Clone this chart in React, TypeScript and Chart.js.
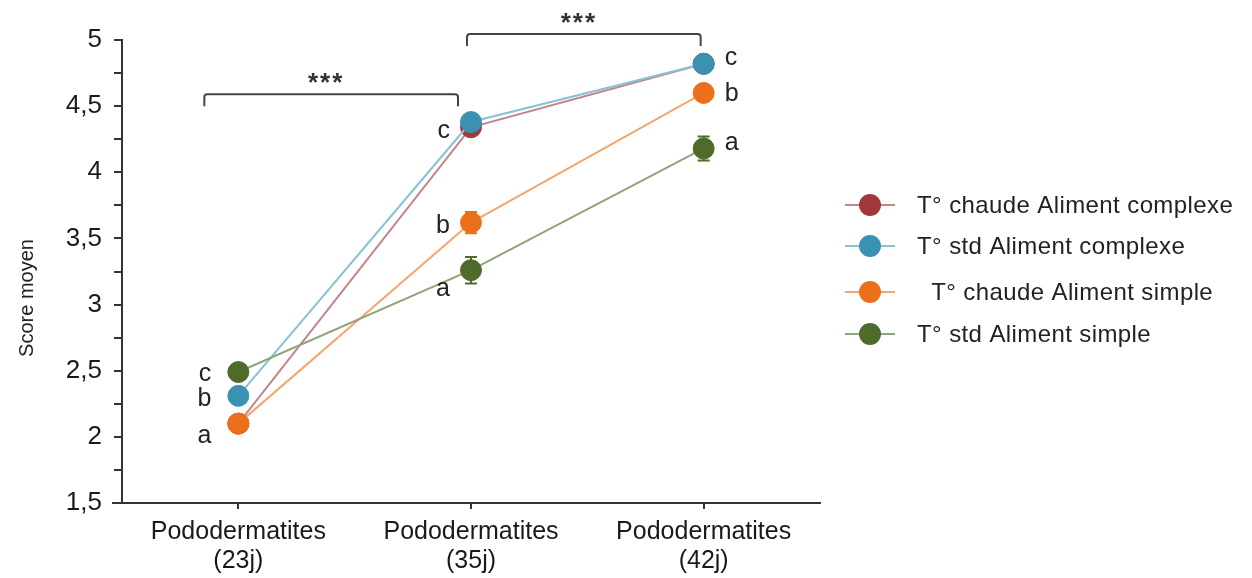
import React, { useEffect, useRef } from 'react';
import { Chart, registerables } from 'chart.js';

Chart.register(...registerables);

const categories = [
  ['Pododermatites', '(23j)'],
  ['Pododermatites', '(35j)'],
  ['Pododermatites', '(42j)'],
];
const seriesLabels = [
  'T° chaude Aliment complexe',
  'T° std Aliment complexe',
  '  T° chaude Aliment simple',
  'T° std Aliment simple',
];
const chaudeComplexe = [2.1, 4.34, 4.82];
const stdComplexe = [2.31, 4.38, 4.82];
const chaudeSimple = [2.1, 3.62, 4.6];
const stdSimple = [2.49, 3.26, 4.18];

const errChaudeComplexe = [0.03, 0.04, 0.03];
const errStdComplexe = [0.03, 0.03, 0.03];
const errChaudeSimple = [0.03, 0.08, 0.04];
const errStdSimple = [0.03, 0.1, 0.09];

// significance letters: category index, series index, letter
const letterCats = [0, 0, 0, 1, 1, 1, 2, 2, 2];
const letterSeries = [3, 1, 2, 0, 2, 3, 1, 2, 3];
const letterTexts = ['c', 'b', 'a', 'c', 'b', 'a', 'c', 'b', 'a'];

// significance brackets
const bracketFrom = [0, 1];
const bracketTo = [1, 2];
const bracketLevel = [4.59, 5.045];
const bracketText = ['***', '***'];

const yTitle = 'Score moyen';
const yMin = 1.5;
const yMax = 5;
const yStep = 0.25;

const pointColors = ['#A1383B', '#3A91B2', '#EC6F1A', '#4F6B2A'];
const lineColors = ['#C4858A', '#86C3D4', '#F5A56E', '#90A47A'];
const FONT = '"Liberation Sans", Arial, Helvetica, sans-serif';

const seriesValues = [chaudeComplexe, stdComplexe, chaudeSimple, stdSimple];
const seriesErrors = [errChaudeComplexe, errStdComplexe, errChaudeSimple, errStdSimple];

const overlayPlugin = {
  id: 'overlay',
  beforeDatasetsDraw(chart: any) {
    const ctx = chart.ctx;
    const y = chart.scales.y;
    ctx.save();
    seriesErrors.forEach((errs, i) => {
      const meta = chart.getDatasetMeta(i);
      errs.forEach((e, j) => {
        const pt = meta.data[j];
        const v = seriesValues[i][j];
        const top = y.getPixelForValue(v + e);
        const bot = y.getPixelForValue(v - e);
        ctx.strokeStyle = pointColors[i];
        ctx.lineWidth = 2;
        ctx.beginPath();
        ctx.moveTo(pt.x, top);
        ctx.lineTo(pt.x, bot);
        ctx.moveTo(pt.x - 6, top);
        ctx.lineTo(pt.x + 6, top);
        ctx.moveTo(pt.x - 6, bot);
        ctx.lineTo(pt.x + 6, bot);
        ctx.stroke();
      });
    });
    ctx.restore();
  },
  afterDraw(chart: any) {
    const ctx = chart.ctx;
    const x = chart.scales.x;
    const y = chart.scales.y;
    const area = chart.chartArea;
    ctx.save();

    // x-axis extension to the left of the y axis
    ctx.strokeStyle = '#333';
    ctx.lineWidth = 2;
    ctx.beginPath();
    ctx.moveTo(area.left - 10, area.bottom);
    ctx.lineTo(area.left, area.bottom);
    ctx.stroke();

    // y axis title
    ctx.save();
    ctx.translate(27, 298);
    ctx.rotate(-Math.PI / 2);
    ctx.fillStyle = '#222';
    ctx.font = `20px ${FONT}`;
    ctx.textAlign = 'center';
    ctx.textBaseline = 'middle';
    ctx.fillText(yTitle, 0, 0);
    ctx.restore();

    // letters
    ctx.fillStyle = '#222';
    ctx.font = `25px ${FONT}`;
    ctx.textBaseline = 'middle';
    const dyLeft: Record<string, number> = { c: 2, b: 3, a: 12 };
    const dyLeft1: Record<string, number> = { c: 4, b: 4, a: 19 };
    const dyRight: Record<string, number> = { c: -6, b: 1, a: -5 };
    letterTexts.forEach((t, k) => {
      const c = letterCats[k];
      const s = letterSeries[k];
      const px = x.getPixelForValue(c);
      const py = y.getPixelForValue(seriesValues[s][c]);
      if (c === 2) {
        ctx.textAlign = 'left';
        ctx.fillText(t, px + 21, py + dyRight[t]);
      } else if (c === 0) {
        ctx.textAlign = 'right';
        ctx.fillText(t, px - 27, py + dyLeft[t]);
      } else {
        ctx.textAlign = 'right';
        ctx.fillText(t, px - 21, py + dyLeft1[t]);
      }
    });

    // brackets
    const startOff = [-34, -4];
    const endOff = [-13, -3];
    bracketText.forEach((t, k) => {
      const x1 = x.getPixelForValue(bracketFrom[k]) + startOff[k];
      const x2 = x.getPixelForValue(bracketTo[k]) + endOff[k];
      const by = y.getPixelForValue(bracketLevel[k]);
      ctx.strokeStyle = '#444';
      ctx.lineWidth = 2;
      ctx.beginPath();
      ctx.moveTo(x1, by + 12);
      ctx.lineTo(x1, by + 3);
      ctx.quadraticCurveTo(x1, by, x1 + 3, by);
      ctx.lineTo(x2 - 3, by);
      ctx.quadraticCurveTo(x2, by, x2, by + 3);
      ctx.lineTo(x2, by + 12);
      ctx.stroke();
      ctx.fillStyle = '#333';
      ctx.font = `bold 26px ${FONT}`;
      ctx.textAlign = 'center';
      ctx.textBaseline = 'middle';
      (ctx as any).letterSpacing = '2px';
      ctx.fillText(t, (x1 + x2) / 2 - 5, by - 10);
      (ctx as any).letterSpacing = '0px';
    });

    // legend
    ctx.font = `24px ${FONT}`;
    ctx.textAlign = 'left';
    ctx.textBaseline = 'middle';
    const rows = [205, 246, 292, 334];
    seriesLabels.forEach((lab, i) => {
      const ry = rows[i];
      ctx.strokeStyle = lineColors[i];
      ctx.lineWidth = 2;
      ctx.beginPath();
      ctx.moveTo(845, ry);
      ctx.lineTo(895, ry);
      ctx.stroke();
      ctx.fillStyle = pointColors[i];
      ctx.beginPath();
      ctx.arc(870, ry, 11, 0, Math.PI * 2);
      ctx.fill();
      ctx.fillStyle = '#222';
      (ctx as any).letterSpacing = '0.4px';
      ctx.fillText(lab, 917, ry + 1);
      (ctx as any).letterSpacing = '0px';
    });
    ctx.restore();
  },
};

export default function App() {
  const ref = useRef<HTMLCanvasElement>(null);
  useEffect(() => {
    document.body.style.margin = '0';
    document.body.style.overflow = 'hidden';
    const order = [4, 3, 2, 1];
    const chart = new Chart(ref.current as HTMLCanvasElement, {
      type: 'line',
      data: {
        labels: categories as any,
        datasets: seriesValues.map((vals, i) => ({
          label: seriesLabels[i],
          data: vals,
          borderColor: lineColors[i],
          backgroundColor: pointColors[i],
          pointBackgroundColor: pointColors[i],
          pointBorderColor: pointColors[i],
          pointRadius: 10.5,
          pointBorderWidth: 1,
          borderWidth: 2,
          tension: 0,
          order: order[i],
        })),
      },
      options: {
        responsive: false,
        animation: false,
        layout: { padding: { top: 40, right: 432, bottom: 0, left: 0 } },
        plugins: { legend: { display: false }, tooltip: { enabled: false } },
        scales: {
          x: {
            offset: true,
            afterFit: (s: any) => {
              s.height = 75;
            },
            grid: {
              offset: false,
              drawOnChartArea: false,
              drawTicks: true,
              tickLength: 6,
              color: '#333',
              lineWidth: 2,
            },
            border: { color: '#333', width: 2 },
            ticks: {
              color: '#1a1a1a',
              font: { family: FONT, size: 25, lineHeight: 1.16 },
              padding: 9,
              maxRotation: 0,
            },
          },
          y: {
            min: yMin,
            max: yMax,
            afterFit: (s: any) => {
              s.width = 122;
            },
            grid: {
              drawOnChartArea: false,
              drawTicks: true,
              tickLength: 8,
              color: '#333',
              lineWidth: 2,
            },
            border: { color: '#333', width: 2 },
            ticks: {
              stepSize: yStep,
              autoSkip: false,
              color: '#1a1a1a',
              font: { family: FONT, size: 26 },
              padding: 12,
              callback: (v: any) => {
                const n = Number(v);
                return Math.abs(n * 2 - Math.round(n * 2)) < 1e-9 ? String(n).replace('.', ',') : '';
              },
            },
            title: { display: false },
          },
        },
      },
      plugins: [overlayPlugin],
    });
    return () => chart.destroy();
  }, []);
  return (
    <div style={{ width: 1252, height: 578 }}>
      <canvas ref={ref} width={1252} height={578} />
    </div>
  );
}
